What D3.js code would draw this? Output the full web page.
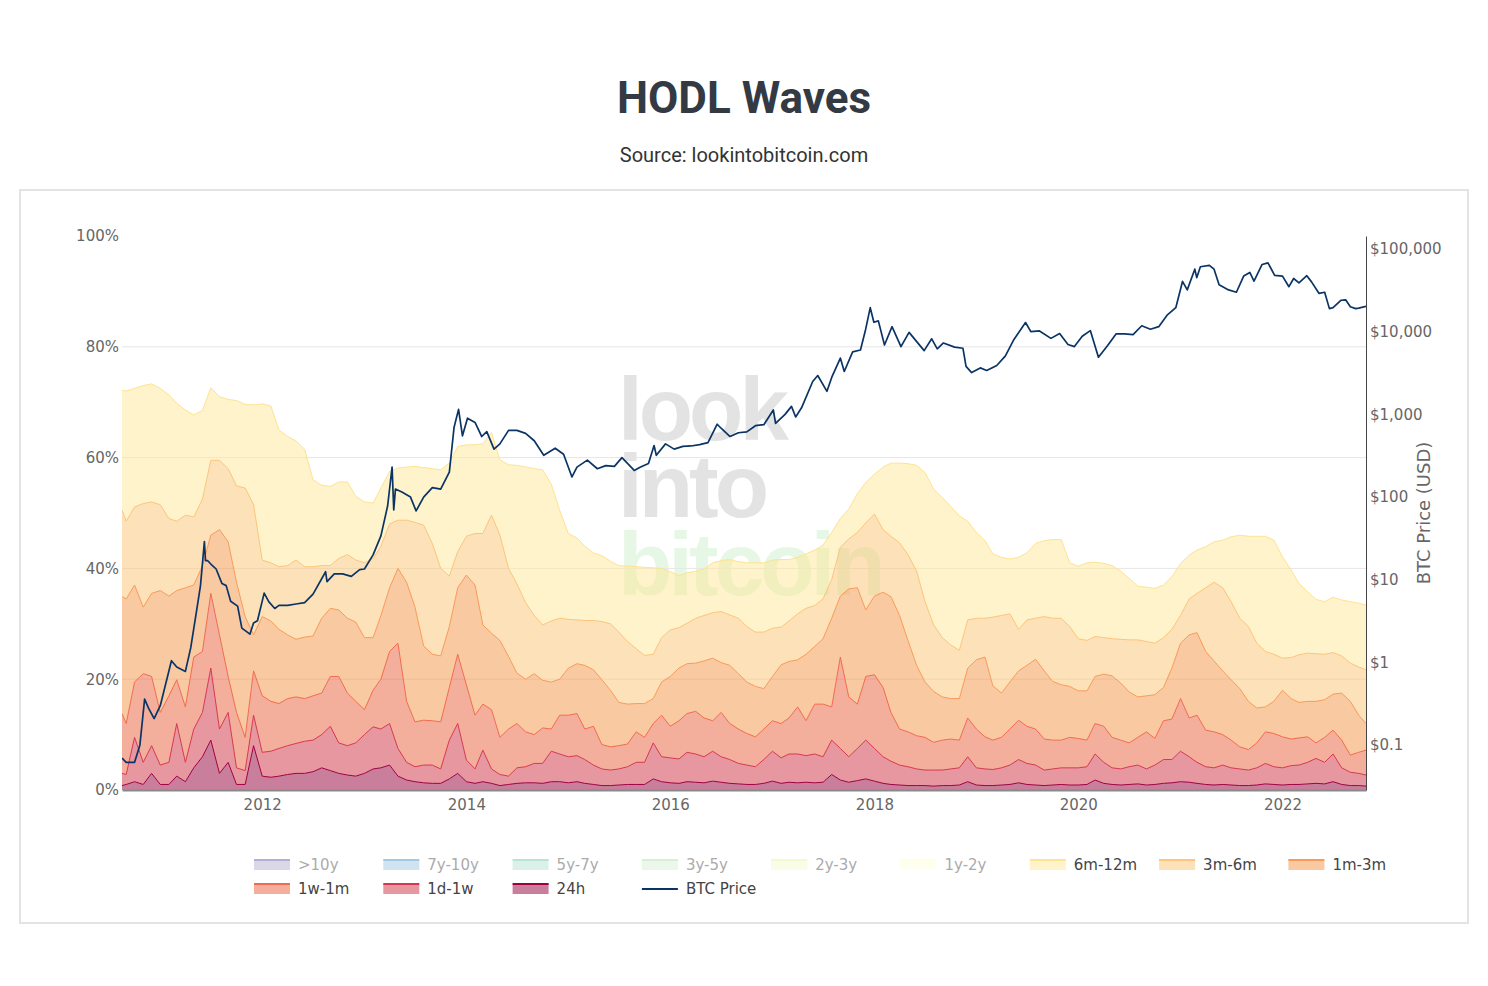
<!DOCTYPE html>
<html>
<head>
<meta charset="utf-8">
<script src="https://cdn.jsdelivr.net/npm/d3@7"></script>
<style>
  body { margin: 0; background: #fff; }
  svg { display: block; }
</style>
</head>
<body>
<svg id="chart" width="1488" height="986"></svg>
<script>
// ---------------- DATA ----------------
// Sampling dates: start of visible range, 1st of each month Sep 2010..Oct 2022, end of range
const rangeStart = "2010-08-17";
const firstMonth = "2010-09-01";
const lastMonthExclusive = "2022-11-01";
const rangeEnd = "2022-10-27";

// Share of supply (%) last moved less than ... ago (cumulative wave boundaries)
const upTo24h = [
  0.8, 1.0, 1.5, 1.0, 3.0, 1.0, 1.0, 2.5, 1.5, 4.0,
  6.0, 9.0, 3.0, 5.0, 1.0, 1.0, 8.0, 2.5, 2.3, 2.5,
  2.8, 3.0, 3.0, 3.3, 4.0, 3.5, 3.0, 2.7, 2.5, 3.0,
  3.8, 4.0, 4.5, 2.5, 1.8, 1.5, 1.3, 1.2, 1.2, 2.0,
  3.0, 1.5, 1.2, 1.5, 1.2, 0.8, 1.0, 1.2, 1.3, 1.3,
  1.2, 1.5, 1.5, 1.3, 1.5, 1.2, 1.0, 0.8, 0.8, 0.9,
  1.0, 1.0, 1.0, 2.0, 1.5, 1.3, 1.2, 1.5, 1.4, 1.3,
  1.6, 1.4, 1.2, 1.1, 1.0, 1.0, 1.2, 1.6, 1.2, 1.4,
  1.3, 1.4, 1.3, 1.4, 2.8, 1.8, 1.4, 1.7, 2.0, 1.6,
  1.2, 1.0, 0.9, 0.8, 0.8, 0.8, 0.7, 0.8, 0.8, 0.9,
  1.5, 0.9, 0.8, 0.8, 0.9, 1.0, 1.3, 1.0, 0.9, 0.8,
  0.9, 1.0, 0.9, 0.9, 1.0, 1.8, 1.2, 1.0, 0.9, 1.0,
  1.1, 0.9, 1.0, 1.2, 1.3, 1.5, 1.4, 1.2, 1.0, 0.9,
  1.0, 0.9, 0.8, 0.8, 0.9, 1.1, 1.0, 0.9, 1.0, 1.0,
  1.1, 1.2, 1.1, 1.5, 1.0, 0.8, 0.8, 0.7
];
const upTo1w = [
  3.0, 2.8, 9.5, 5.0, 8.0, 4.5, 5.0, 12.0, 5.0, 11.0,
  14.0, 22.0, 11.0, 14.0, 4.0, 3.5, 13.5, 6.8, 7.0, 7.5,
  8.0, 8.4, 8.8, 9.0, 10.0, 11.5, 8.5, 8.0, 8.5, 10.0,
  11.4, 11.0, 12.0, 7.5, 5.0, 4.2, 4.5, 4.5, 3.8, 9.0,
  12.0, 5.4, 3.8, 7.2, 3.8, 2.8, 2.5, 4.0, 4.2, 4.8,
  4.8, 7.0, 6.5, 6.0, 6.2, 5.5, 4.5, 3.8, 3.6, 3.8,
  4.2, 5.0, 5.0, 8.5, 6.0, 5.8, 5.6, 6.8, 6.5, 6.0,
  7.0, 6.0, 5.5, 4.8, 4.5, 4.2, 5.5, 7.0, 5.8, 6.5,
  6.5, 6.2, 6.5, 6.0, 9.0, 7.5, 6.0, 7.5, 9.0, 7.5,
  6.0, 5.2, 4.5, 4.2, 3.8, 3.6, 3.6, 3.6, 3.8, 4.0,
  6.0, 4.0, 3.8, 3.7, 4.0, 4.5, 5.5, 4.8, 4.5, 3.6,
  3.8, 4.0, 4.0, 4.0, 4.2, 6.5, 5.0, 4.0, 3.8, 4.2,
  4.5, 3.8, 4.5, 5.5, 5.5, 7.0, 6.0, 5.0, 4.2, 4.0,
  4.5, 4.0, 3.8, 3.6, 4.0, 4.8, 4.2, 4.0, 4.4, 4.5,
  5.0, 5.7, 5.0, 6.5, 4.0, 3.2, 3.0, 2.7
];
const upTo1m = [
  13.8, 12.0, 19.5, 21.0, 20.5, 14.0, 17.0, 19.9, 15.0, 24.0,
  25.0, 35.5, 28.0, 20.5, 14.0, 9.5, 21.5, 17.0, 16.0, 15.6,
  16.5, 16.8, 16.5, 17.0, 17.5, 20.5, 20.5, 17.5, 16.0, 14.5,
  18.0, 20.0, 25.0, 26.5, 16.0, 12.3, 12.6, 12.5, 12.3, 18.5,
  24.5, 19.0, 13.5, 15.5, 14.5, 9.5, 11.0, 12.0, 10.5, 10.0,
  11.2, 11.0, 13.5, 13.5, 13.8, 11.0, 11.5, 8.2, 7.8, 8.0,
  8.3, 10.5, 9.5, 12.0, 13.5, 11.5, 12.5, 13.8, 14.2, 13.0,
  12.5, 14.0, 12.0, 11.0, 10.2, 9.6, 11.0, 12.5, 12.0, 13.0,
  15.0, 12.5, 15.5, 15.5, 15.0, 24.0, 16.8, 15.5, 20.5, 20.8,
  18.5, 14.0, 11.0, 10.5, 9.8, 9.5, 8.6, 9.0, 9.2, 9.0,
  13.0, 11.0, 9.6, 9.0, 9.5, 11.0, 12.6, 11.5, 11.0, 9.2,
  9.0, 9.0, 9.5, 9.3, 9.0, 12.0, 11.5, 9.5, 9.0, 8.5,
  9.5, 10.5, 9.3, 12.5, 12.8, 16.5, 13.0, 13.5, 10.8, 10.5,
  10.0, 9.0, 7.8, 7.3, 8.5, 10.5, 10.2, 9.6, 9.2, 9.4,
  9.6, 8.5, 9.5, 10.8, 9.0, 6.3, 6.8, 7.2
];
const upTo3m = [
  34.9, 34.5, 37.0, 33.0, 35.5, 36.0, 35.0, 36.0, 36.5, 37.0,
  40.5, 46.0, 47.0, 44.8, 37.5, 31.3, 28.0, 31.3, 30.5, 29.0,
  28.0, 27.2, 27.6, 27.8, 31.0, 32.8, 32.5, 31.0, 30.3, 27.5,
  27.5, 31.5, 36.5, 40.0, 37.5, 33.0, 26.0, 24.5, 24.2, 29.5,
  36.5, 38.8, 37.0, 29.8, 28.3, 27.0, 24.1, 21.1, 20.0, 21.0,
  19.8, 19.5, 20.0, 22.0, 22.8, 22.5, 21.7, 19.9, 18.0, 15.8,
  15.5, 15.6, 15.6, 16.5, 19.5, 20.5, 22.0, 22.8, 22.9, 23.3,
  23.8, 23.0, 22.5, 21.0, 19.5, 18.7, 18.3, 20.5, 22.6, 23.2,
  23.5, 24.5, 25.9, 27.3, 31.0, 35.0, 36.3, 36.5, 32.5, 35.0,
  35.7, 34.9, 31.5, 27.0, 22.5, 19.5, 17.8, 16.8, 16.5, 16.5,
  22.0, 23.5, 24.0, 18.8, 17.5, 19.5, 21.5, 22.5, 23.6, 21.5,
  19.6, 19.0, 18.7, 17.9, 17.9, 20.5, 20.9, 20.6, 19.3, 17.7,
  16.8, 17.0, 17.2, 18.5, 22.0, 26.5, 28.0, 28.4, 25.0, 23.3,
  21.5, 19.9, 18.3, 16.0, 14.8, 15.0, 16.0, 18.0, 16.5, 15.8,
  16.0, 16.0, 16.3, 17.3, 17.5, 16.0, 13.5, 12.0
];
const upTo6m = [
  50.5, 48.5, 51.1, 51.7, 52.0, 51.5, 49.0, 48.5, 49.6, 49.3,
  52.5, 59.5, 59.5, 58.0, 54.9, 54.5, 51.5, 41.5, 41.0, 40.3,
  40.5, 41.5, 40.3, 40.3, 40.5, 40.5, 41.8, 42.5, 41.5, 41.0,
  41.8, 44.0, 48.0, 48.7, 48.7, 48.3, 47.8, 44.5, 40.0, 38.6,
  43.0, 45.8, 46.3, 46.3, 49.6, 46.0, 40.0, 37.2, 33.8, 31.5,
  29.8, 30.5, 31.0, 30.8, 30.7, 30.6, 30.6, 30.4, 30.0, 28.5,
  26.8, 25.5, 24.3, 24.5, 27.5, 28.9, 29.3, 30.1, 31.0, 31.5,
  32.0, 32.2, 31.6, 31.0, 29.5, 28.5, 28.5, 29.2, 29.4, 30.5,
  31.8, 32.8, 33.3, 34.5, 38.0, 43.8, 45.3, 46.5, 48.2, 49.8,
  47.0, 45.8, 44.6, 42.5, 39.5, 34.0, 29.8, 27.5, 26.2, 25.2,
  30.7, 31.0, 31.0, 31.2, 31.5, 31.8, 29.0, 30.7, 31.0, 31.3,
  31.0, 31.0, 29.5, 27.3, 27.0, 27.7, 27.5, 27.3, 27.2, 27.1,
  27.1, 26.8, 26.5, 27.5, 29.0, 31.5, 34.5, 35.5, 36.5, 37.5,
  36.5, 34.0, 31.0, 29.5, 26.5, 25.0, 24.5, 23.8, 23.9, 24.4,
  24.7, 24.6, 24.5, 24.8, 24.2, 22.9, 22.2, 21.7
];
const upTo12m = [
  72.2, 72.0, 72.5, 73.0, 73.3, 72.5, 71.3, 69.8, 68.6, 67.7,
  68.5, 72.6, 71.0, 70.5, 70.3, 69.6, 69.5, 69.7, 69.3, 65.0,
  63.8, 63.0, 61.5, 56.0, 55.0, 54.8, 55.6, 55.6, 53.0, 52.0,
  51.8, 54.5, 57.5, 58.1, 58.3, 58.4, 58.2, 58.0, 57.8, 59.0,
  62.0, 62.3, 62.3, 62.5, 64.5, 59.6, 58.7, 58.6, 58.3, 58.0,
  57.8, 55.2, 50.5, 46.3, 45.5, 44.0, 42.8, 42.3, 41.3, 40.5,
  40.4, 40.3, 40.2, 40.1, 40.0, 39.4, 38.7, 39.2, 39.5, 39.9,
  41.0, 41.4, 41.6, 41.2, 41.0, 41.0, 41.0, 41.5, 41.6, 41.6,
  42.0, 42.6, 43.3, 44.2, 46.5, 49.0, 50.7, 53.5, 55.5, 57.0,
  58.3, 59.0, 59.0, 58.9, 58.6, 57.3, 54.3, 52.8, 51.2, 49.5,
  48.5, 46.5, 45.0, 42.6, 42.0, 41.7, 42.0, 42.8, 44.5, 45.0,
  45.2, 45.2, 41.0, 40.4, 41.0, 41.1, 40.9, 40.5, 39.5, 38.2,
  36.8, 36.6, 36.4, 37.0, 38.5, 40.9, 42.4, 43.3, 43.9, 44.8,
  45.1, 45.7, 46.0, 45.8, 45.8, 45.8, 45.1, 42.1, 39.7, 37.3,
  35.8, 34.4, 34.0, 34.8, 34.3, 34.0, 33.7, 33.4
];

// BTC price (USD)
const priceDates = [
  "2010-08-17","2010-09-01","2010-10-01","2010-10-20","2010-11-06","2010-11-20","2010-12-10","2011-01-01",
  "2011-02-10","2011-03-01","2011-04-01","2011-04-20","2011-05-10","2011-05-25","2011-06-08","2011-06-12",
  "2011-06-20","2011-07-01","2011-07-20","2011-08-10","2011-08-25","2011-09-10","2011-10-05","2011-10-20",
  "2011-11-18","2011-12-01","2011-12-15","2012-01-08","2012-01-25","2012-02-15","2012-03-01","2012-04-01",
  "2012-05-01","2012-06-01","2012-07-01","2012-08-15","2012-08-20","2012-09-15","2012-10-15","2012-11-15",
  "2012-12-15","2013-01-01","2013-02-01","2013-03-01","2013-03-25","2013-04-10","2013-04-16","2013-04-22",
  "2013-05-15","2013-06-15","2013-07-05","2013-08-01","2013-09-01","2013-10-01","2013-11-01","2013-11-18",
  "2013-12-04","2013-12-18","2014-01-05","2014-02-01","2014-02-25","2014-03-15","2014-04-10","2014-05-01",
  "2014-06-01","2014-07-01","2014-08-01","2014-09-01","2014-10-05","2014-11-15","2014-12-15","2015-01-14",
  "2015-02-01","2015-03-10","2015-04-15","2015-05-15","2015-06-15","2015-07-12","2015-08-25","2015-09-15",
  "2015-10-15","2015-11-04","2015-11-12","2015-12-15","2016-01-15","2016-02-15","2016-03-15","2016-04-15",
  "2016-05-15","2016-06-17","2016-07-01","2016-08-02","2016-09-01","2016-10-01","2016-11-01","2016-12-01",
  "2017-01-04","2017-01-12","2017-02-15","2017-03-10","2017-03-25","2017-04-15","2017-05-25","2017-06-12",
  "2017-07-15","2017-08-01","2017-09-01","2017-09-15","2017-10-15","2017-11-12","2017-11-30","2017-12-17",
  "2017-12-30","2018-01-15","2018-02-06","2018-03-05","2018-04-06","2018-05-05","2018-06-28","2018-07-25",
  "2018-08-14","2018-09-05","2018-10-15","2018-11-14","2018-11-25","2018-12-15","2019-01-15","2019-02-07",
  "2019-03-15","2019-04-15","2019-05-15","2019-06-26","2019-07-15","2019-08-15","2019-09-25","2019-10-26",
  "2019-11-25","2019-12-18","2020-01-15","2020-02-13","2020-03-13","2020-04-15","2020-05-15","2020-06-15",
  "2020-07-15","2020-08-15","2020-09-15","2020-10-15","2020-11-15","2020-12-15","2021-01-08","2021-01-25",
  "2021-02-21","2021-02-28","2021-03-13","2021-04-14","2021-05-01","2021-05-19","2021-06-22","2021-07-20",
  "2021-08-15","2021-09-06","2021-09-21","2021-10-20","2021-11-10","2021-12-04","2022-01-01","2022-01-24",
  "2022-02-10","2022-03-01","2022-03-29","2022-04-15","2022-05-12","2022-06-01","2022-06-18","2022-07-01",
  "2022-07-30","2022-08-15","2022-09-01","2022-09-20","2022-10-01","2022-10-27"
];
const priceValues = [
  0.07, 0.062, 0.062, 0.10, 0.36, 0.28, 0.21, 0.30,
  1.05, 0.88, 0.78, 1.5, 4.0, 8.5, 29, 17,
  17, 15.5, 13.5, 9, 8.5, 5.5, 4.8, 2.6,
  2.2, 3.0, 3.2, 6.9, 5.4, 4.5, 4.9, 4.9,
  5.1, 5.3, 6.7, 12.5, 9.5, 11.8, 11.8, 11.0,
  13.3, 13.5, 20, 34, 78, 230, 70, 125,
  115, 100, 68, 100, 130, 125, 200, 700,
  1150, 550, 900, 800, 540, 620, 380, 440,
  640, 640, 590, 480, 320, 390, 330, 175,
  230, 280, 220, 240, 235, 300, 210, 230,
  255, 420, 320, 440, 380, 410, 415, 430,
  455, 760, 680, 540, 600, 615, 730, 750,
  1130, 780, 1000, 1250, 930, 1200, 2500, 2950,
  1900, 2800, 4800, 3300, 5700, 6000, 10500, 19500,
  13000, 13500, 6900, 11500, 6600, 9800, 5900, 8200,
  6200, 7300, 6500, 6300, 3800, 3200, 3650, 3400,
  3900, 5100, 8000, 12900, 10000, 10200, 8300, 9500,
  7000, 6600, 8800, 10300, 4900, 6800, 9400, 9400,
  9200, 11800, 10700, 11500, 16000, 19500, 40500, 32000,
  57000, 45000, 61000, 63500, 57000, 37000, 32000, 30000,
  47000, 52000, 41000, 65000, 68000, 48000, 47000, 35000,
  44000, 39000, 47500, 40000, 29000, 30000, 19000, 19500,
  24000, 24300, 20000, 19000, 19300, 20300
];

const seriesNames = ["24h", "1d-1w", "1w-1m", "1m-3m", "3m-6m", "6m-12m"];
const legendNames = [">10y", "7y-10y", "5y-7y", "3y-5y", "2y-3y", "1y-2y", "6m-12m", "3m-6m", "1m-3m",
                     "1w-1m", "1d-1w", "24h", "BTC Price"];
const hiddenNames = [">10y", "7y-10y", "5y-7y", "3y-5y", "2y-3y", "1y-2y"];
const pctTicks = [0, 20, 40, 60, 80, 100];
const priceTicks = [0.1, 1, 10, 100, 1000, 10000, 100000];
const yearTicks = [2012, 2014, 2016, 2018, 2020, 2022];

// ---------------- STYLE ----------------
const lineColor = {
  ">10y": "#5e4fa2", "7y-10y": "#3288bd", "5y-7y": "#66c2a5", "3y-5y": "#abdda4",
  "2y-3y": "#e6f598", "1y-2y": "#ffffbf",
  "6m-12m": "#fee390", "3m-6m": "#fdc47a", "1m-3m": "#f99a58",
  "1w-1m": "#f26b4d", "1d-1w": "#d6384f", "24h": "#9e0142"
};
const fillColor = {
  ">10y": "#5e4fa2", "7y-10y": "#3288bd", "5y-7y": "#66c2a5", "3y-5y": "#abdda4",
  "2y-3y": "#e6f598", "1y-2y": "#ffffbf",
  "6m-12m": "#fde795", "3m-6m": "#fbc573", "1m-3m": "#f39345",
  "1w-1m": "#e95d39", "1d-1w": "#cf2f3f", "24h": "#930039"
};
const priceColor = "#0b3466";
const axisFont = "DejaVu Sans, Verdana, sans-serif";

// ---------------- BUILD ----------------
const parse = d3.timeParse("%Y-%m-%d");
const dates = [parse(rangeStart), ...d3.timeMonth.range(parse(firstMonth), parse(lastMonthExclusive)), parse(rangeEnd)];
const levels = [upTo24h, upTo1w, upTo1m, upTo3m, upTo6m, upTo12m];
const rows = dates.map((d, i) => {
  const r = { date: d };
  seriesNames.forEach((n, k) => { r[n] = levels[k][i] - (k ? levels[k - 1][i] : 0); });
  return r;
});
const stacked = d3.stack().keys(seriesNames)(rows);
const priceData = priceDates.map((s, i) => ({ date: parse(s), v: priceValues[i] }));

const plot = { left: 122, right: 1366, top: 236, bottom: 790 };

const svg = d3.select("#chart");

// frame
svg.append("rect").attr("x", 20).attr("y", 190).attr("width", 1448).attr("height", 733)
  .attr("fill", "#fff").attr("stroke", "#e3e3e3").attr("stroke-width", 2);

// title
svg.append("text").attr("x", 744).attr("y", 113).attr("text-anchor", "middle")
  .attr("font-family", "Roboto, sans-serif").attr("font-weight", 700).attr("font-size", 44)
  .attr("fill", "#333a44").text("HODL Waves");
svg.append("text").attr("x", 744).attr("y", 162).attr("text-anchor", "middle")
  .attr("font-family", "Roboto, sans-serif").attr("font-size", 20)
  .attr("fill", "#333").text("Source: lookintobitcoin.com");

// scales
const x = d3.scaleTime().domain([parse(rangeStart), parse(rangeEnd)]).range([plot.left, plot.right]);
const y = d3.scaleLinear().domain([0, 100]).range([plot.bottom, plot.top]);
const yP = d3.scaleLog().domain([Math.pow(10, -1.542), Math.pow(10, 5.157)]).range([plot.bottom, plot.top]);

// watermark (one text block, three lines)
const wm = svg.append("text").attr("font-family", "Liberation Sans, Arial, sans-serif")
  .attr("font-weight", 700).attr("font-size", 89).attr("letter-spacing", -4)
  .attr("x", 618).attr("y", 440);
wm.append("tspan").attr("x", 618).attr("y", 440).attr("fill", "#e3e3e3").text("look");
wm.append("tspan").attr("x", 618).attr("y", 517).attr("fill", "#e3e3e3").text("into");
wm.append("tspan").attr("x", 618).attr("y", 595).attr("fill", "#e6f7e6").text("bitcoin");

// gridlines
svg.append("g").selectAll("line").data(pctTicks.filter(t => t > 0 && t < 100)).join("line")
  .attr("x1", plot.left).attr("x2", plot.right)
  .attr("y1", d => y(d)).attr("y2", d => y(d))
  .attr("stroke", "#e6e6e6").attr("stroke-width", 1);

// clip
svg.append("clipPath").attr("id", "clip").append("rect")
  .attr("x", plot.left).attr("y", plot.top).attr("width", plot.right - plot.left).attr("height", plot.bottom - plot.top);

const gPlot = svg.append("g").attr("clip-path", "url(#clip)");
const area = d3.area().x(d => x(d.data.date)).y0(d => y(d[0])).y1(d => y(d[1]));
const topLine = d3.line().x(d => x(d.data.date)).y(d => y(d[1]));

gPlot.selectAll("path.band").data(stacked).join("path").attr("class", "band")
  .attr("d", area).attr("fill", d => fillColor[d.key]).attr("fill-opacity", 0.5);
gPlot.selectAll("path.bline").data(stacked).join("path").attr("class", "bline")
  .attr("d", topLine).attr("fill", "none").attr("stroke", d => lineColor[d.key]).attr("stroke-width", 1);

// price line
gPlot.append("path").datum(priceData)
  .attr("d", d3.line().x(d => x(d.date)).y(d => yP(d.v)))
  .attr("fill", "none").attr("stroke", priceColor).attr("stroke-width", 1.7).attr("stroke-linejoin", "round");

// axes
const styleAxis = g => {
  g.selectAll("text").attr("font-family", axisFont).attr("font-size", 15).attr("fill", "#666");
};
const gx = svg.append("g").attr("transform", `translate(0,${plot.bottom})`)
  .call(d3.axisBottom(x).tickValues(yearTicks.map(yr => new Date(yr, 0, 1))).tickFormat(d3.timeFormat("%Y")).tickSize(0).tickPadding(9));
gx.select(".domain").attr("stroke", "#8a8a8a").attr("stroke-width", 2);
styleAxis(gx);

const gy = svg.append("g").attr("transform", `translate(${plot.left},0)`)
  .call(d3.axisLeft(y).tickValues(pctTicks).tickFormat(d => d + "%").tickSize(0).tickPadding(3));
gy.select(".domain").remove();
styleAxis(gy);

const fmtPrice = v => v < 1 ? "$" + v : "$" + d3.format(",")(v);
const gyr = svg.append("g").attr("transform", `translate(${plot.right},0)`)
  .call(d3.axisRight(yP).tickValues(priceTicks).tickFormat(fmtPrice).tickSize(0).tickPadding(4));
gyr.select(".domain").attr("stroke", "#444").attr("stroke-width", 1);
styleAxis(gyr);

svg.append("text").attr("transform", `translate(1430,513) rotate(-90)`).attr("text-anchor", "middle")
  .attr("font-family", axisFont).attr("font-size", 18).attr("fill", "#666").text("BTC Price (USD)");

// legend
const legend = svg.append("g");
legendNames.forEach((name, i) => {
  const col = i % 9, row = Math.floor(i / 9);
  const lx = 254 + col * 129.3, ly = 865 + row * 24;
  const g = legend.append("g").attr("opacity", hiddenNames.includes(name) ? 0.45 : 1);
  if (name === "BTC Price") {
    g.append("line").attr("x1", lx).attr("x2", lx + 36).attr("y1", ly).attr("y2", ly)
      .attr("stroke", priceColor).attr("stroke-width", 2);
  } else {
    g.append("rect").attr("x", lx).attr("y", ly - 5).attr("width", 36).attr("height", 10)
      .attr("fill", fillColor[name]).attr("fill-opacity", 0.5);
    g.append("line").attr("x1", lx).attr("x2", lx + 36).attr("y1", ly - 5).attr("y2", ly - 5)
      .attr("stroke", lineColor[name]).attr("stroke-width", 2);
  }
  g.append("text").attr("x", lx + 44).attr("y", ly).attr("dy", "0.35em")
    .attr("font-family", axisFont).attr("font-size", 15).attr("fill", "#444").text(name);
});
</script>
</body>
</html>
